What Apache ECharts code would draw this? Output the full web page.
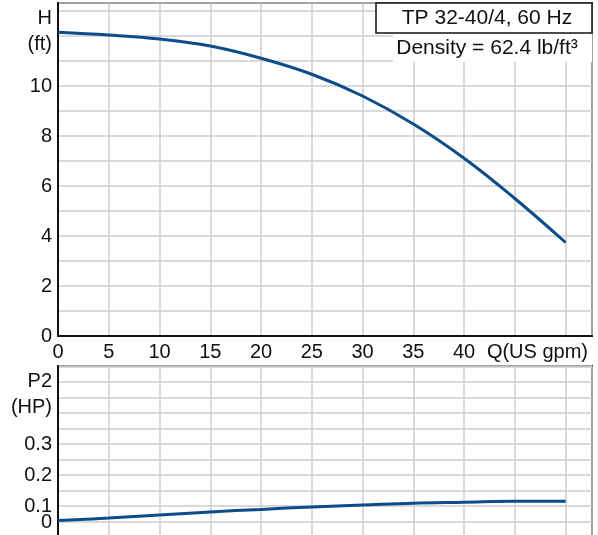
<!DOCTYPE html>
<html>
<head>
<meta charset="utf-8">
<script src="https://cdn.jsdelivr.net/npm/echarts@6/dist/echarts.min.js"></script>
<style>
html,body{margin:0;padding:0;background:#fff;overflow:hidden;}
#c{width:598px;height:545px;}
</style>
</head>
<body>
<div id="c"></div>
<script>
// Data
const flowQ = [0, 5, 10, 15, 20, 25, 30, 35, 40, 45, 50];
const headH = [12.15, 12.04, 11.88, 11.6, 11.11, 10.47, 9.6, 8.48, 7.11, 5.5, 3.74];
const powerP2 = [0.053, 0.061, 0.071, 0.081, 0.089, 0.097, 0.103, 0.109, 0.112, 0.115, 0.115];
const xTickLabels = ['0', '5', '10', '15', '20', '25', '30', '35', '40'];
const hTickLabels = ['0', '2', '4', '6', '8', '10'];
const p2TickLabels = ['0', '0.1', '0.2', '0.3'];
const titleText = 'TP 32-40/4, 60 Hz';
const densityText = 'Density = 62.4 lb/ft³';

const FONT = "'Liberation Sans', Arial, Helvetica, sans-serif";
const FS = 20;
const FS_T = 21;
const gridLine = { show: true, lineStyle: { color: '#cccccc', width: 1.5 } };
const axisLine = { show: true, lineStyle: { color: '#111', width: 2 } };
const XMAX = 52.6;

const chart = echarts.init(document.getElementById('c'), null, { renderer: 'canvas' });
const lbl = v => String(Math.round(v * 100) / 100);

chart.setOption({
  animation: false,
  backgroundColor: '#fff',
  textStyle: { fontFamily: FONT },
  grid: [
    { left: 58, width: 534, top: 3, height: 333, outerBoundsMode: 'none', show: true, borderColor: '#222', borderWidth: 2, backgroundColor: 'transparent' },
    { left: 58, width: 534, top: 366, height: 171, outerBoundsMode: 'none', show: true, borderColor: '#222', borderWidth: 2, backgroundColor: 'transparent' }
  ],
  xAxis: [
    {
      gridIndex: 0, type: 'value', min: 0, max: XMAX, interval: 5,
      axisLine: axisLine, axisTick: { show: false }, splitLine: gridLine,
      axisLabel: {
        color: '#111', fontSize: FS, fontFamily: FONT, margin: 6,
        showMaxLabel: false,
        formatter: v => xTickLabels.indexOf(lbl(v)) >= 0 ? lbl(v) : ''
      },
      name: 'Q(US gpm)', nameLocation: 'end', nameGap: 0,
      nameTextStyle: { color: '#111', fontSize: FS, fontFamily: FONT, align: 'right', verticalAlign: 'top', padding: [6, 4, 0, 0] }
    },
    {
      gridIndex: 1, type: 'value', min: 0, max: XMAX, interval: 5,
      axisLine: axisLine, axisTick: { show: false }, splitLine: gridLine,
      axisLabel: { show: false }
    }
  ],
  yAxis: [
    {
      gridIndex: 0, type: 'value', min: 0, max: 13.32, interval: 1,
      axisLine: axisLine, axisTick: { show: false }, splitLine: gridLine,
      axisLabel: {
        color: '#111', fontSize: FS, fontFamily: FONT, margin: 6, showMaxLabel: false,
        formatter: v => hTickLabels.indexOf(lbl(v)) >= 0 ? lbl(v) : ''
      },
      name: 'H\n(ft)', nameLocation: 'end', nameGap: -2,
      nameTextStyle: { color: '#111', fontSize: FS, fontFamily: FONT, align: 'right', verticalAlign: 'top', lineHeight: 26, padding: [0, 6, 0, 0] }
    },
    {
      gridIndex: 1, type: 'value', min: 0, max: 0.5516, interval: 0.05,
      axisLine: axisLine, axisTick: { show: false }, splitLine: gridLine,
      axisLabel: {
        color: '#111', fontSize: FS, fontFamily: FONT, margin: 6, showMaxLabel: false, lineHeight: 30,
        formatter: v => {
          const s = lbl(v);
          if (s === '0') return '0\n ';
          return p2TickLabels.indexOf(s) >= 0 ? s : '';
        }
      },
      name: 'P2\n(HP)', nameLocation: 'end', nameGap: -2,
      nameTextStyle: { color: '#111', fontSize: FS, fontFamily: FONT, align: 'right', verticalAlign: 'top', lineHeight: 26, padding: [0, 6, 0, 0] }
    }
  ],
  series: [
    {
      type: 'line', xAxisIndex: 0, yAxisIndex: 0, smooth: 0.4, symbol: 'none',
      lineStyle: { color: '#0c4c8a', width: 3 },
      data: flowQ.map((q, i) => [q, headH[i]])
    },
    {
      type: 'line', xAxisIndex: 1, yAxisIndex: 1, smooth: 0.4, symbol: 'none',
      lineStyle: { color: '#0c4c8a', width: 3 },
      data: flowQ.map((q, i) => [q, powerP2[i]])
    }
  ],
  graphic: [
    { type: 'rect', shape: { x: 393, y: 33, width: 199, height: 29 }, style: { fill: '#fff' }, z: 10 },
    { type: 'text', x: 487, y: 48, style: { text: densityText, fill: '#111', font: FS_T + 'px ' + FONT, align: 'center', verticalAlign: 'middle' }, z: 11 },
    { type: 'rect', shape: { x: 376, y: 3, width: 216, height: 30 }, style: { fill: '#fff', stroke: '#111', lineWidth: 1.5 }, z: 10 },
    { type: 'text', x: 487, y: 18, style: { text: titleText, fill: '#111', font: FS_T + 'px ' + FONT, align: 'center', verticalAlign: 'middle' }, z: 11 }
  ]
});
</script>
</body>
</html>
